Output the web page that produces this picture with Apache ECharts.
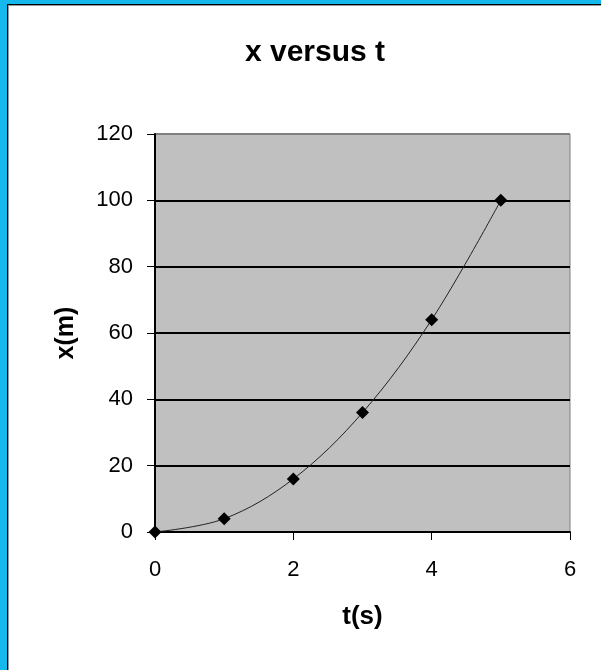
<!DOCTYPE html>
<html>
<head>
<meta charset="utf-8">
<script src="https://cdn.jsdelivr.net/npm/echarts@6/dist/echarts.min.js"></script>
<style>
  html, body { margin: 0; padding: 0; background: #14b8ec; width: 601px; height: 670px; overflow: hidden; }
  #frame { position: absolute; left: 7px; top: 4px; width: 594px; height: 666px;
           border-left: 1px solid #000; border-top: 1px solid #000; }
  #inner { position: absolute; left: 0; top: 0; width: 593px; height: 665px;
           border-left: 1px solid #999; border-top: 1px solid #999; background: #fff; }
  #chart { width: 592px; height: 664px; }
</style>
</head>
<body>
<div id="frame"><div id="inner"><div id="chart"></div></div></div>
<script>
(function() {
  'use strict';

  // --- Data ---
  var times = [0, 1, 2, 3, 4, 5];
  var positions = [0, 4, 16, 36, 64, 100];
  var titleText = 'x versus t';
  var xName = 't(s)';
  var yName = 'x(m)';

  var FONT = '"Liberation Sans", Arial, sans-serif';

  var points = times.map(function(t, i) { return [t, positions[i]]; });

  var chart = echarts.init(document.getElementById('chart'), null, { renderer: 'canvas' });

  chart.setOption({
    animation: false,
    title: {
      text: titleText,
      left: 301,
      top: 27,
      textAlign: 'center',
      textStyle: { fontFamily: FONT, fontSize: 30, fontWeight: 'bold', color: '#000' }
    },
    grid: {
      left: 146,
      top: 128,
      right: 31,
      bottom: 138,
      show: true,
      backgroundColor: '#c0c0c0',
      borderColor: '#808080',
      borderWidth: 1
    },
    xAxis: {
      type: 'value',
      min: 0,
      max: 6,
      interval: 2,
      name: xName,
      nameLocation: 'middle',
      nameGap: 72,
      nameTextStyle: { fontFamily: FONT, fontSize: 26, fontWeight: 'bold', color: '#000' },
      axisLine: { lineStyle: { color: '#000', width: 2 } },
      axisTick: { show: true, length: 8, lineStyle: { color: '#000', width: 1 } },
      axisLabel: { fontFamily: FONT, fontSize: 22, color: '#000', margin: 27 },
      splitLine: { show: false }
    },
    yAxis: {
      type: 'value',
      min: 0,
      max: 120,
      interval: 20,
      name: yName,
      nameLocation: 'middle',
      nameGap: 76,
      nameRotate: 90,
      nameTextStyle: { fontFamily: FONT, fontSize: 25, fontWeight: 'bold', color: '#000' },
      axisLine: { show: true, lineStyle: { color: '#000', width: 2 } },
      axisTick: { show: true, length: 8, lineStyle: { color: '#000', width: 1 } },
      axisLabel: { fontFamily: FONT, fontSize: 22, color: '#000', margin: 22 },
      splitLine: {
        show: true,
        lineStyle: {
          color: ['#000', '#000', '#000', '#000', '#000', '#000', '#808080'],
          width: 2
        }
      }
    },
    series: [{
      type: 'line',
      data: points,
      smooth: 0.35,
      symbol: 'diamond',
      symbolSize: 13,
      itemStyle: { color: '#000' },
      lineStyle: { color: '#222', width: 1 }
    }]
  });
})();
</script>
</body>
</html>
